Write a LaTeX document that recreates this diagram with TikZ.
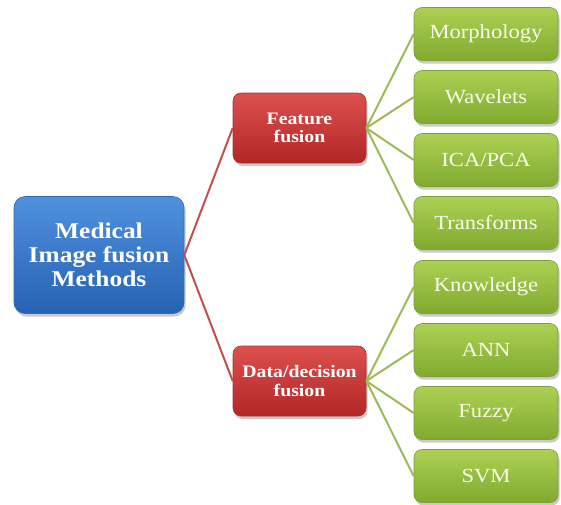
\documentclass[tikz,border=0pt]{standalone}
\usepackage{fontspec}
\setmainfont{Liberation Serif}[FakeStretch=1.13]
\usetikzlibrary{shadows}
\definecolor{bluetop}{RGB}{80,145,222}
\definecolor{bluebot}{RGB}{38,98,178}
\definecolor{blueedge}{RGB}{50,105,175}
\definecolor{redtop}{RGB}{220,80,78}
\definecolor{redbot}{RGB}{178,38,38}
\definecolor{rededge}{RGB}{170,50,50}
\definecolor{greentop}{RGB}{172,208,84}
\definecolor{greenbot}{RGB}{128,170,46}
\definecolor{greenedge}{RGB}{125,160,55}
\definecolor{redline}{RGB}{192,80,77}
\definecolor{greenline}{RGB}{155,187,89}
\definecolor{cream}{RGB}{252,252,235}
\tikzset{
  boxbase/.style={rounded corners=8pt, inner sep=0pt, align=center, text=white,
    drop shadow={shadow xshift=1.5pt, shadow yshift=-3pt, opacity=0.35, fill=black!60}},
  rootbox/.style={boxbase, rounded corners=11pt, top color=bluetop, bottom color=bluebot, draw=blueedge, line width=0.6pt,
    minimum width=170pt, minimum height=117pt, font=\fontsize{22.5}{24}\selectfont\bfseries},
  midbox/.style={boxbase, top color=redtop, bottom color=redbot, draw=rededge, line width=0.6pt,
    minimum width=133pt, minimum height=70pt, font=\fontsize{17.5}{18.5}\selectfont\bfseries},
  leafbox/.style={boxbase, top color=greentop, bottom color=greenbot, draw=greenedge, line width=0.6pt,
    minimum width=144pt, minimum height=53pt, text=cream, font=\fontsize{20}{21}\selectfont},
  redcon/.style={draw=redline, line width=2pt},
  greencon/.style={draw=greenline, line width=2pt}
}
\begin{document}
\begin{tikzpicture}[x=1pt,y=-1pt]
\useasboundingbox (0,0) rectangle (561,504);
\node[rootbox] (root) at (99,255) {Medical\\Image fusion\\Methods};
\node[midbox] (feat) at (299.5,128) {Feature\\fusion};
\node[midbox] (data) at (299.5,381) {Data/decision\\fusion};
\node[leafbox] (l1) at (486,34) {Morphology};
\node[leafbox] (l2) at (486,97) {Wavelets};
\node[leafbox] (l3) at (486,160) {ICA/PCA};
\node[leafbox] (l4) at (486,223) {Transforms};
\node[leafbox] (l5) at (486,287) {Knowledge};
\node[leafbox] (l6) at (486,350) {ANN};
\node[leafbox] (l7) at (486,413) {Fuzzy};
\node[leafbox] (l8) at (486,476) {SVM};
\draw[redcon] (root.east) -- (feat.west);
\draw[redcon] (root.east) -- (data.west);
\foreach \n in {l1,l2,l3,l4} \draw[greencon] (feat.east) -- (\n.west);
\foreach \n in {l5,l6,l7,l8} \draw[greencon] (data.east) -- (\n.west);
\end{tikzpicture}
\end{document}
